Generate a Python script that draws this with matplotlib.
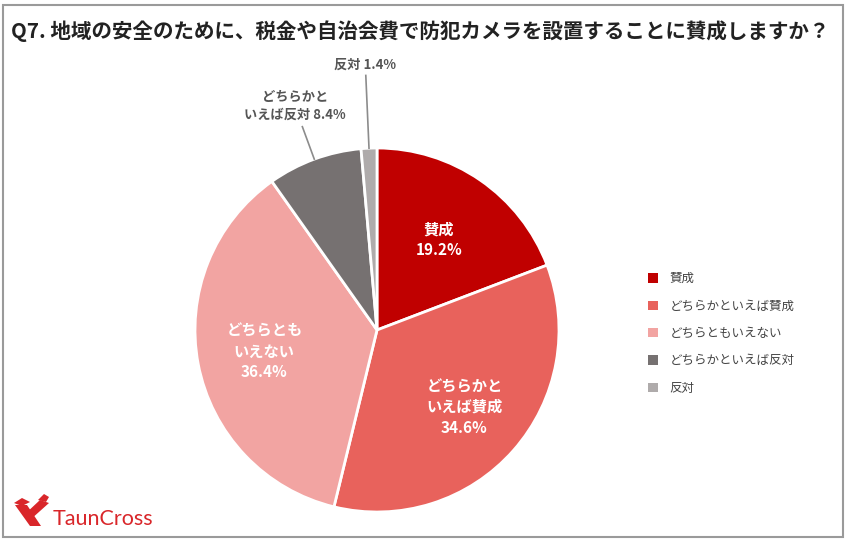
import numpy as np
import matplotlib.pyplot as plt
from matplotlib.patches import Polygon, Rectangle, Patch

plt.rcParams['font.family'] = ['Noto Sans CJK JP', 'DejaVu Sans']

# data
categories = ['賛成', 'どちらかといえば賛成', 'どちらともいえない', 'どちらかといえば反対', '反対']
values = [19.2, 34.6, 36.4, 8.4, 1.4]
slice_labels = ['賛成\n19.2%', 'どちらかと\nいえば賛成\n34.6%', 'どちらとも\nいえない\n36.4%',
                'どちらかと\nいえば反対 8.4%', '反対 1.4%']
colors = ['#C00000', '#E8625C', '#F2A4A2', '#767171', '#AFABAB']
title = 'Q7. 地域の安全のために、税金や自治会費で防犯カメラを設置することに賛成しますか？'

W, H = 846, 540
fig = plt.figure(figsize=(W / 100, H / 100), dpi=100)

# outer border
fig.patches.append(Rectangle((3 / W, 3 / H), 840 / W, 532 / H, transform=fig.transFigure,
                             fill=False, edgecolor='#9a9a9a', linewidth=1.5))

fig.text(11 / W, 1 - 31 / H, title, fontsize=14.8, fontweight='bold', color='#222222',
         ha='left', va='center')

# pie axes: center (377, 330), radius 182 px
cx, cy, r = 377, 330, 182
ax = fig.add_axes([(cx - r) / W, (H - cy - r) / H, 2 * r / W, 2 * r / H])
wedges, _ = ax.pie(values, colors=colors, startangle=90, counterclock=False, radius=1,
                   wedgeprops=dict(edgecolor='white', linewidth=2))
ax.set_xlim(-1, 1)
ax.set_ylim(-1, 1)
ax.set_aspect('equal')
ax.axis('off')

inside_r = [0.6, 0.64, 0.63]
for i, w in enumerate(wedges):
    ang = np.deg2rad((w.theta1 + w.theta2) / 2)
    if i < 3:
        ax.text(inside_r[i] * np.cos(ang), inside_r[i] * np.sin(ang), slice_labels[i],
                ha='center', va='center', color='white', fontsize=11, fontweight='bold',
                linespacing=1.35)

# outside labels with leader lines
outer = {3: (1.19, -0.04, 0.03), 4: (1.40, -0.005, 0.02)}
for i, (rr, dx, dy) in outer.items():
    w = wedges[i]
    ang = np.deg2rad((w.theta1 + w.theta2) / 2)
    x0, y0 = np.cos(ang), np.sin(ang)
    x1, y1 = rr * np.cos(ang), rr * np.sin(ang)
    ax.plot([x0, x1], [y0, y1], color='#8c8c8c', linewidth=1.2, clip_on=False)
    ax.text(x1 + dx, y1 + dy, slice_labels[i], ha='center', va='bottom', color='#555555',
            fontsize=9.5, fontweight='bold', linespacing=1.3, clip_on=False)

# legend
handles = [Patch(facecolor=c, edgecolor='none') for c in colors]
leg = fig.legend(handles, categories, loc='upper left', bbox_to_anchor=(642 / W, 1 - 266 / H),
                 frameon=False, fontsize=9, handlelength=0.8, handleheight=0.8,
                 handletextpad=0.9, labelspacing=1.15, borderpad=0)
for t in leg.get_texts():
    t.set_color('#444444')

# logo
red = '#D9262A'
fig.text(53 / W, 1 - 519 / H, 'TaunCross', fontsize=15.5, color=red, ha='left', va='center',
         family='Lato')
mark = [
    [(15, 505), (27, 505), (41, 526), (30, 526)],
    [(24, 515), (40, 500), (49, 503), (30, 520)],
    [(14, 503), (22, 498), (30, 502), (22, 506)],
    [(38, 500), (44, 494), (49, 497), (46, 502)],
]
for pts in mark:
    fig.patches.append(Polygon([(x / W, 1 - y / H) for x, y in pts], closed=True,
                               transform=fig.transFigure, facecolor=red, edgecolor='none'))

fig.savefig('out.png', dpi=100)
